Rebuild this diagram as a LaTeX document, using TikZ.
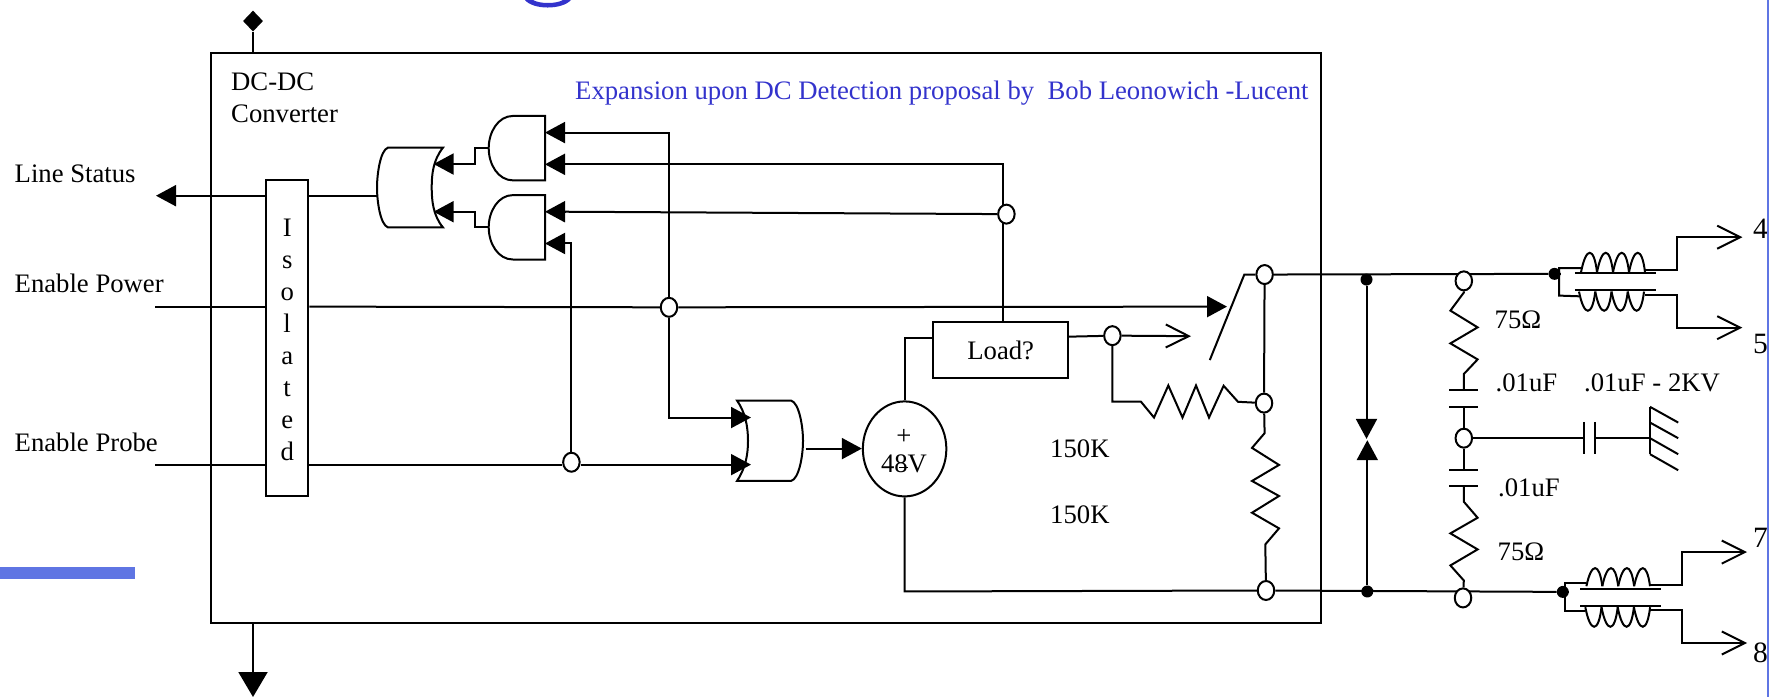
\documentclass[tikz,border=0pt]{standalone}
\usepackage{fontspec}
\setmainfont{Liberation Serif}
\usetikzlibrary{arrows.meta,shapes.geometric,backgrounds}
\definecolor{labelblue}{HTML}{3333CC}
\definecolor{barblue}{HTML}{5F75E3}
\tikzset{
  wire/.style={line width=2pt,line join=miter},
  shape line/.style={line width=2pt,fill=white,line join=miter},
  head/.style={-{Triangle[length=20pt,width=21pt]}},
  openhead/.style={-{Straight Barb[length=23pt,width=23pt,line width=2pt]}},
  lbl/.style={anchor=base west,inner sep=0pt,font=\fontsize{26.7}{30}\selectfont},
  pinlbl/.style={anchor=base west,inner sep=0pt,font=\fontsize{29.5}{30}\selectfont},
  hub/.style={ellipse,draw,line width=2pt,fill=white,inner sep=0pt,minimum width=16.5pt,minimum height=19pt},
  dot/.style={circle,fill=black,inner sep=0pt,minimum size=12pt},
  box/.style={rectangle,draw,line width=2pt,fill=white,inner sep=0pt},
}
\newcommand{\mycoil}[4]{%
  \foreach \i in {0,1,2,3}{%
    \pgfmathsetmacro{\xa}{#1+\i*#4}%
    \pgfmathsetmacro{\xb}{#1+(\i+1)*#4}%
    \draw[wire] (\xa,#2) .. controls (\xa+5,#3) and (\xb-3,#3) .. (\xb,#2);%
  }%
}
\begin{document}
\begin{tikzpicture}[x=1pt,y=-1.002pt]
\useasboundingbox (0,0) rectangle (1769,695.6);
% heading fragment
\fill[labelblue] (525,0) .. controls (533,10) and (562,10) .. (571,0) -- (563,0) .. controls (556,4) and (540,4) .. (533,0) -- cycle;
\fill[barblue] (0,566) rectangle (135,578);
% outer box
\node[rectangle,draw,line width=2pt,inner sep=0pt,minimum width=1110pt,minimum height=570pt] (outer) at (766,337.8) {};
% diamond and bottom arrow
\node[diamond,fill=black,inner sep=0pt,minimum width=20pt,minimum height=21pt] (top) at (253,21) {};
\draw[wire] (top) -- (top |- outer.north);
\coordinate (botend) at (253,695.6);
\draw[wire,-{Triangle[length=25pt,width=29pt]}] (botend |- outer.south) -- (botend);
% labels
\node[lbl] (t1) at (231,90) {DC-DC};
\node[lbl] (t2) at (231,122) {Converter};
\node[lbl,text=labelblue] (t3) at (575,99) {Expansion upon DC Detection proposal by\ \ Bob Leonowich -Lucent};
\node[lbl] (t4) at (14.5,182) {Line Status};
\node[lbl] (t5) at (14.5,292) {Enable Power};
\node[lbl] (t6) at (14.5,451) {Enable Probe};
\node[lbl] (t7) at (1050,457) {150K};
\node[lbl] (t8) at (1050,522) {150K};
\node[lbl] (t9) at (1494.5,328) {75Ω};
\node[lbl] (t10) at (1495.5,391) {.01uF};
\node[lbl] (t11) at (1584,391) {.01uF - 2KV};
\node[lbl] (t12) at (1498,495) {.01uF};
\node[lbl] (t13) at (1497.5,559) {75Ω};
\node[pinlbl] (n4) at (1753,238) {4};
\node[pinlbl] (n5) at (1753,353) {5};
\node[pinlbl] (n7) at (1753,546) {7};
\node[pinlbl] (n8) at (1753,661) {8};
% isolated
\node[box,minimum width=42.5pt,minimum height=316pt] (iso) at (287.2,337.7) {};
\node[inner sep=0pt,align=center,font=\fontsize{26.7}{32}\selectfont] (isotext) at (287.2,338.8) {I\\s\\o\\l\\a\\t\\e\\d};
% gates
\draw[shape line] (443,147.3) -- (388,147.3) .. controls (380,150) and (377,175) .. (377,187) .. controls (377,200) and (380,224) .. (388,227) -- (443,227) .. controls (433,215) and (431.7,200) .. (431.7,187) .. controls (431.7,174) and (433,160) .. (443,147.3) -- cycle;
\draw[shape line] (545,115.7) -- (513,115.7) .. controls (498,115.7) and (488.7,132) .. (488.7,147.8) .. controls (488.7,164) and (498,180) .. (513,180) -- (545,180) -- cycle;
\draw[shape line] (545,194.7) -- (513,194.7) .. controls (498,194.7) and (488.7,211) .. (488.7,226.8) .. controls (488.7,243) and (498,259) .. (513,259) -- (545,259) -- cycle;
\draw[shape line] (737,399.7) -- (791,399.7) .. controls (799,402) and (803,425) .. (803,440) .. controls (803,455) and (799,478) .. (791,480) -- (737,480) .. controls (745,468) and (748,455) .. (748,440) .. controls (748,425) and (745,411) .. (737,399.7) -- cycle;
% source and load
\node[ellipse,draw,line width=2pt,fill=white,inner sep=0pt,minimum width=83.5pt,minimum height=95pt] (src) at (904.6,448) {};
\node[anchor=base,inner sep=0pt,font=\fontsize{26.7}{30}\selectfont] (plus) at (904,444) {+};
\node[anchor=base,inner sep=0pt,font=\fontsize{26.7}{30}\selectfont] (volt) at (904,472) {48V};
\draw[line width=1.2pt] (volt.center) ++(-5,3) -- ++(9,0);
\node[box,minimum width=135.5pt,minimum height=55.5pt,font=\fontsize{26.7}{30}\selectfont] (load) at (1000.7,349.3) {Load?};
% hubs
\node[hub] (cA) at (1006.4,213.7) {};
\node[hub] (cB) at (669,306.7) {};
\node[hub] (cC) at (571.4,461.3) {};
\node[hub] (cD) at (1112.4,335) {};
\node[hub] (cE) at (1264.6,274) {};
\node[hub] (cF) at (1264,402.3) {};
\node[hub] (cG) at (1266,589.3) {};
\node[hub] (cH) at (1463.8,280.3) {};
\node[hub] (cI) at (1463.8,437.3) {};
\node[hub] (cJ) at (1463,596.7) {};
\node[dot] (dA) at (1366.5,279) {};
\node[dot] (dB) at (1367.3,590.3) {};
\node[dot] (dC) at (1554.5,273.3) {};
\node[dot] (dD) at (1562.8,590.7) {};
% free ends
\coordinate (lsOut) at (156,195.3);
\coordinate (epIn) at (155,306);
\coordinate (eprIn) at (155,463.7);
\coordinate (orAout) at (377,195.3);
\coordinate (orBin1) at (751,416.7);
\coordinate (orBin2) at (751,463.7);
\coordinate (orBout) at (805.5,447.7);
\coordinate (swTip) at (1227,306);
\coordinate (swA) at (1209.8,359.3);
\coordinate (swB) at (1244.3,274);
\coordinate (rA) at (1140.8,400.7);
\coordinate (o4) at (1742.4,236.7);
\coordinate (o5) at (1742.4,327);
\coordinate (o7) at (1747,551);
\coordinate (o8) at (1747,641.7);
\coordinate (gndT) at (1650,406);
\coordinate (gndB) at (1650,453.3);
\coordinate (gndM) at (1650,437.3);
\begin{scope}[on background layer]
% left signals
\draw[wire,head] (iso.west |- lsOut) -- (lsOut);
\draw[wire] (iso.east |- lsOut) -- (orAout);
\draw[wire] (epIn) -- (iso.west |- epIn);
\draw[wire] (iso.east |- epIn) -- (cB);
\draw[wire] (eprIn) -- (iso.west |- eprIn);
\draw[wire] (iso.east |- eprIn) -- (cC.west |- eprIn);
% between gates
\draw[wire] (488.7,147.8) -- (474.5,147.8) -- (474.5,163.7) -- (453,163.7);
\draw[wire] (488.7,226.8) -- (474.5,226.8) -- (474.5,211.3) -- (453,211.3);
% feedback to ANDs
\draw[wire] (565,132.3) -- (669,132.3) -- (cB);
\draw[wire] (565,164) -- (1002.6,164) -- (1002.6,321.5);
\draw[wire] (565,211.3) -- (cA);
\draw[wire] (565,243) -- (571.4,243) -- (cC);
\draw[wire] (cB) -- (669,416.7) -- (735,416.7);
% source
\draw[wire] (src.north) -- (904.6,337.3) -- (933,337.3);
\draw[wire] (src.south) -- (904.6,590.3) -- (cG);
% load output
\draw[wire] (1068.4,336) -- (cD);
\draw[wire] (cD) -- (1112.4,400.7) -- (rA) -- (1154,416.7) -- (1168.3,384.7) -- (1182.5,416.7) -- (1196,384.7) -- (1209,416.7) -- (1223.6,385) -- (1238,401) -- (cF);
\draw[wire] (swA) -- (swB) -- (cE);
\draw[wire] (cE) -- (cF);
\draw[wire] (cF) -- (1264.6,432.3) -- (1252,447) -- (1279,464) -- (1252,480) -- (1279,495) -- (1252,511.7) -- (1279,527.3) -- (1265.3,543.3) -- (cG);
% rails
\draw[wire] (cE) -- (dC);
\draw[wire] (cG) -- (dD);
\draw[wire] (dA) -- (1366.5,430);
\draw[wire] (dB) -- (1367.3,450);
% bridge
\draw[wire] (cH) -- (1463.8,292) -- (1450.4,310) -- (1477.6,326.7) -- (1450.4,342.7) -- (1477.6,358.7) -- (1463.8,373.3) -- (1463.8,389.7);
\draw[wire] (1463.8,406) -- (cI);
\draw[wire] (cI) -- (1463.8,468.7);
\draw[wire] (1463.8,485) -- (1463.8,500.7) -- (1477.6,516.7) -- (1450.4,532.3) -- (1477.6,548.3) -- (1450.4,564.3) -- (1463.8,579.3) -- (cJ);
\draw[wire] (cI) -- (1583.9,437.3);
\draw[wire] (1594.8,437.3) -- (gndM);
% transformer wires
\draw[wire] (dC) -- (1559,273.3);
\draw[wire] (1581,267.7) -- (1559,267.7) -- (1559,295) -- (1579,295.7);
\draw[wire] (dD) -- (1564.7,590.7);
\draw[wire] (1586.4,582.3) -- (1564.7,582.3) -- (1564.7,610) -- (1585.3,610);
\end{scope}
% arrows on top of gates
\draw[wire,head] (cB) -- (swTip);
\draw[wire,head] (453,163.7) -- (433.6,163.7);
\draw[wire,head] (453,211.3) -- (433.6,211.3);
\draw[wire,head] (565,132.3) -- (545,132.3);
\draw[wire,head] (565,164) -- (545,164);
\draw[wire,head] (565,211.3) -- (545,211.3);
\draw[wire,head] (565,243) -- (545,243);
\draw[wire,head] (731,416.7) -- (orBin1);
\draw[wire,head] (cC.east |- eprIn) -- (orBin2);
\draw[wire,head] (orBout) -- (src.west |- orBout);
\draw[wire,openhead] (cD.east) -- (1191,335.5);
% diode pair
\coordinate (tvsU) at (1366.5,438);
\coordinate (tvsL) at (1367.3,439.3);
\draw[wire,head] (1366.5,416) -- (tvsU);
\draw[wire,head] (1367.3,461) -- (tvsL);
% capacitor plates
\draw[wire] (1449.3,389.7) -- (1478.3,389.7);
\draw[wire] (1449.3,406) -- (1478.3,406);
\draw[wire] (1449.3,468.7) -- (1478.3,468.7);
\draw[wire] (1449.3,485) -- (1478.3,485);
\draw[wire] (1583.9,421) -- (1583.9,453.3);
\draw[wire] (1594.8,421) -- (1594.8,453.3);
% ground
\draw[wire] (gndT) -- (gndB);
\draw[wire] (gndT) -- (1678.2,421.7);
\draw[wire] (1650,421.7) -- (1678.2,437.3);
\draw[wire] (1650,437.3) -- (1678.2,453.3);
\draw[wire] (1650,453.3) -- (1678.2,469.3);
% upper transformer
\mycoil{1581}{271.7}{245.8}{16}
\mycoil{1579}{291}{316.5}{16.25}
\draw[wire] (1574.8,272.7) -- (1656,272.7);
\draw[wire] (1574.8,289.3) -- (1656,289.3);
\draw[wire,openhead] (1644.5,269.3) -- (1676.8,269.3) -- (1676.8,236.7) -- (o4);
\draw[wire,openhead] (1644.5,294.7) -- (1676.8,294.7) -- (1676.8,327) -- (o5);
% lower transformer
\mycoil{1586.4}{585}{561}{15.9}
\mycoil{1585.3}{606}{632}{16.2}
\draw[wire] (1580.3,588.3) -- (1661,588.3);
\draw[wire] (1580.3,604.7) -- (1661,604.7);
\draw[wire,openhead] (1650,583.7) -- (1681.5,583.7) -- (1681.5,551) -- (o7);
\draw[wire,openhead] (1650,608.7) -- (1681.5,608.7) -- (1681.5,641.7) -- (o8);
% right strip
\fill[barblue] (1767,0) rectangle (1769,695.6);
\end{tikzpicture}
\end{document}
